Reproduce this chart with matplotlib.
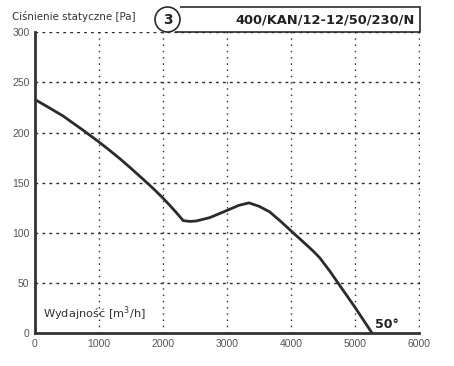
import matplotlib
matplotlib.use("Agg")
import matplotlib.pyplot as plt
from matplotlib.patches import Ellipse, Polygon

# curve: flow [m3/h] vs static pressure [Pa]
flow = [0, 200, 441, 600, 753, 992, 1150, 1325, 1500, 1688, 1850, 2000, 2104, 2210,
        2312, 2420, 2520, 2727, 2987, 3180, 3340, 3500, 3662, 3830, 4000, 4170,
        4337, 4441, 4600, 4727, 4987, 5262]
pressure = [233, 225.6, 216.5, 209.2, 202.3, 191, 183.1, 174, 164.3, 153.5, 144.0, 134.6,
            127.5, 120.0, 112.3, 111.5, 112, 115.3, 122.2, 127.5, 130, 126.5, 121, 111.8,
            101.8, 92, 82.2, 75.4, 62, 50.3, 26.5, 0]

x_ticks = [0, 1000, 2000, 3000, 4000, 5000, 6000]
y_ticks = [0, 50, 100, 150, 200, 250, 300]

y_title = "Ciśnienie statyczne [Pa]"
x_title = "Wydajność [m$^3$/h]"
model = "400/KAN/12-12/50/230/N"
curve_no = "3"
angle = "50°"

W, H = 454, 366
fig = plt.figure(figsize=(W / 100, H / 100), dpi=100)
ax = fig.add_axes([35 / W, 1 - 333.3 / H, 384.5 / W, 301 / H])

dark = "#2b2b2b"
ax.plot(flow, pressure, color=dark, lw=2.0, solid_joinstyle="round")

ax.set_xlim(0, 6000)
ax.set_ylim(0, 300)
ax.set_xticks(x_ticks)
ax.set_yticks(y_ticks)
ax.tick_params(length=0, labelsize=7.5, labelcolor="#555555", pad=4)
for lab in ax.get_xticklabels() + ax.get_yticklabels():
    lab.set_family("Liberation Sans")

# grid: vertical dotted, horizontal dashed
for xv in x_ticks[1:]:
    ax.axvline(xv, color=dark, lw=1.0, ls=(0, (1, 3.5)), zorder=0)
for yv in y_ticks[1:]:
    ax.axhline(yv, color=dark, lw=1.0, ls=(0, (2, 3)), zorder=0)

for s in ["top", "right"]:
    ax.spines[s].set_visible(False)
for s in ["left", "bottom"]:
    ax.spines[s].set_color("#333333")
    ax.spines[s].set_linewidth(2.0)

ax.text(0.02, 0.035, x_title, transform=ax.transAxes, fontsize=8.2,
        color="#333333", ha="left", va="bottom")
ax.text(5300, 2, angle, fontsize=9, fontweight="bold", color="#222222",
        ha="left", va="bottom")

# header
fig.text(12 / W, 1 - 17 / H, y_title, fontsize=7.4, color="#333333",
         ha="left", va="center")
box = Polygon([(180 / W, 1 - 7 / H), (420 / W, 1 - 7 / H), (420 / W, 1 - 32 / H),
               (175 / W, 1 - 32 / H)], closed=False, fill=False,
              edgecolor=dark, lw=1.2, transform=fig.transFigure)
fig.add_artist(box)
circ = Ellipse((167.5 / W, 1 - 19.5 / H), 25 / W, 25 / H, fill=True,
               facecolor="white", edgecolor=dark, lw=1.2, transform=fig.transFigure)
fig.add_artist(circ)
fig.text(167.5 / W, 1 - 20 / H, curve_no, fontsize=10, fontweight="bold",
         color="#222222", ha="center", va="center", family="DejaVu Sans Condensed")
fig.text(415 / W, 1 - 20 / H, model, fontsize=9.4, fontweight="bold",
         color="#222222", ha="right", va="center", family="DejaVu Sans Condensed")

fig.savefig("out.png", dpi=100, facecolor="white")
